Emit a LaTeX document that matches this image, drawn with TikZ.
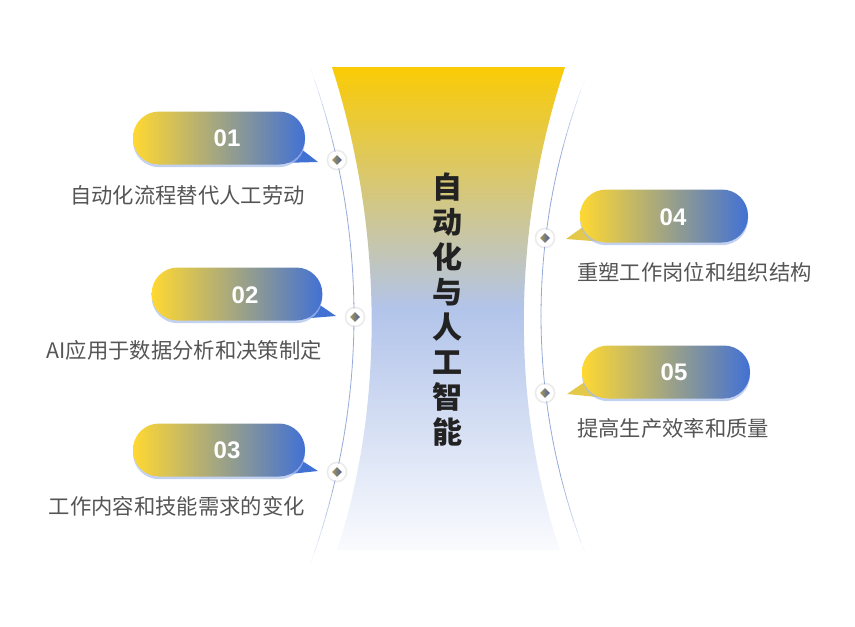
\documentclass[tikz,border=0pt]{standalone}
\usepackage{fontspec}
\setmainfont{Liberation Sans}
\newfontfamily\cjk{Noto Sans CJK SC}
\usetikzlibrary{shapes.geometric, shadows}
\definecolor{shapeyellow}{RGB}{250,203,5}
\definecolor{shapeblue}{RGB}{178,196,234}
\definecolor{shapewhite}{RGB}{250,251,254}
\definecolor{pillyellow}{RGB}{255,216,50}
\definecolor{pillblue}{RGB}{66,113,212}
\definecolor{glowblue}{RGB}{170,190,235}
\definecolor{curveblue}{RGB}{150,170,218}
\definecolor{gemgold}{RGB}{170,150,80}
\definecolor{gemblue}{RGB}{70,95,165}
\definecolor{labelgray}{RGB}{85,85,85}
\definecolor{titledark}{RGB}{34,34,34}

\begin{document}
\begin{tikzpicture}[
    x=0.75pt, y=-0.75pt,
    pill/.style={rectangle, rounded corners=19.5pt, minimum height=39.75pt, inner sep=0pt,
        left color=pillyellow, right color=pillblue,
        drop shadow={fill=glowblue, opacity=0.7, shadow xshift=0pt, shadow yshift=-2pt}},
    number/.style={font=\bfseries\fontsize{18}{20}\selectfont, text=white},
    marker/.style={circle, fill=white, minimum size=13pt, inner sep=0pt,
        drop shadow={fill=black!40, opacity=0.2, shadow xshift=0pt, shadow yshift=0pt, shadow scale=1.2}},
    gem/.style={diamond, minimum size=7.5pt, inner sep=0pt, left color=gemgold, right color=gemblue},
    itemtext/.style={font=\cjk\fontsize{16}{18}\selectfont, text=labelgray, inner sep=0pt},
    title/.style={font=\cjk\bfseries\fontsize{22.5}{26.25}\selectfont, text=titledark, align=center},
]
    \useasboundingbox (0,0) rectangle (855,626);

    % Central funnel
    \path[top color=shapeyellow, bottom color=shapewhite, middle color=shapeblue]
        (332,67) .. controls (384,230) and (384,407) .. (337,550) -- (560,550)
        .. controls (511,407) and (511,230) .. (565,67) -- cycle;
    \node[title] (title) at (447,310) {自\\动\\化\\与\\人\\工\\智\\能};

    % Side arcs, fading out at both ends
    \foreach \a in {-20,-19,...,19} {
        \pgfmathsetmacro\op{min(1,(20-abs(\a+0.5))/7)}
        \draw[curveblue, line width=0.6pt, opacity=\op]
            plot[domain=\a:\a+1.05, samples=4] ({-370+724*cos(\x)}, {316+724*sin(\x)});
    }
    \foreach \a in {-21,-20,...,20} {
        \pgfmathsetmacro\op{min(1,(21-abs(\a+0.5))/7)}
        \draw[curveblue, line width=0.6pt, opacity=\op]
            plot[domain=\a:\a+1.05, samples=4] ({1201-660*cos(\x)}, {316+660*sin(\x)});
    }

    % Left items
    \fill[pillblue] (280,163) -- (318,162) -- (296,145) -- cycle;
    \node[pill, minimum width=129pt] (p1) at (219,138) {};
    \node[number] (n1) at (227,138) {01};
    \node[itemtext, anchor=east] (t1) at (305,195) {自动化流程替代人工劳动};

    \fill[pillblue] (298,319) -- (336,316) -- (314,301) -- cycle;
    \node[pill, minimum width=128pt] (p2) at (237,294) {};
    \node[number] (n2) at (245,295) {02};
    \node[itemtext, anchor=east] (t2) at (322,350) {AI应用于数据分析和决策制定};

    \fill[pillblue] (280,475) -- (318,471) -- (296,457) -- cycle;
    \node[pill, minimum width=129pt] (p3) at (219,450) {};
    \node[number] (n3) at (227,450) {03};
    \node[itemtext, anchor=east] (t3) at (305,506) {工作内容和技能需求的变化};

    % Right items
    \fill[pillyellow!85!pillblue] (605,242) -- (566,239) -- (587,224) -- cycle;
    \node[pill, minimum width=126pt] (p4) at (664,216) {};
    \node[number] (n4) at (673,217) {04};
    \node[itemtext, anchor=west] (t4) at (577,272) {重塑工作岗位和组织结构};

    \fill[pillyellow!85!pillblue] (607,398) -- (567,394) -- (589,379) -- cycle;
    \node[pill, minimum width=126pt] (p5) at (666,372) {};
    \node[number] (n5) at (674,372) {05};
    \node[itemtext, anchor=west] (t5) at (577,428) {提高生产效率和质量};

    % Markers on the arcs
    \foreach \name/\pos in {m1/{(337,160)}, m2/{(355,317)}, m3/{(337,472)}, m4/{(545,238)}, m5/{(545,393)}} {
        \node[marker] (\name) at \pos {};
        \node[gem] at (\name) {};
    }
\end{tikzpicture}
\end{document}
